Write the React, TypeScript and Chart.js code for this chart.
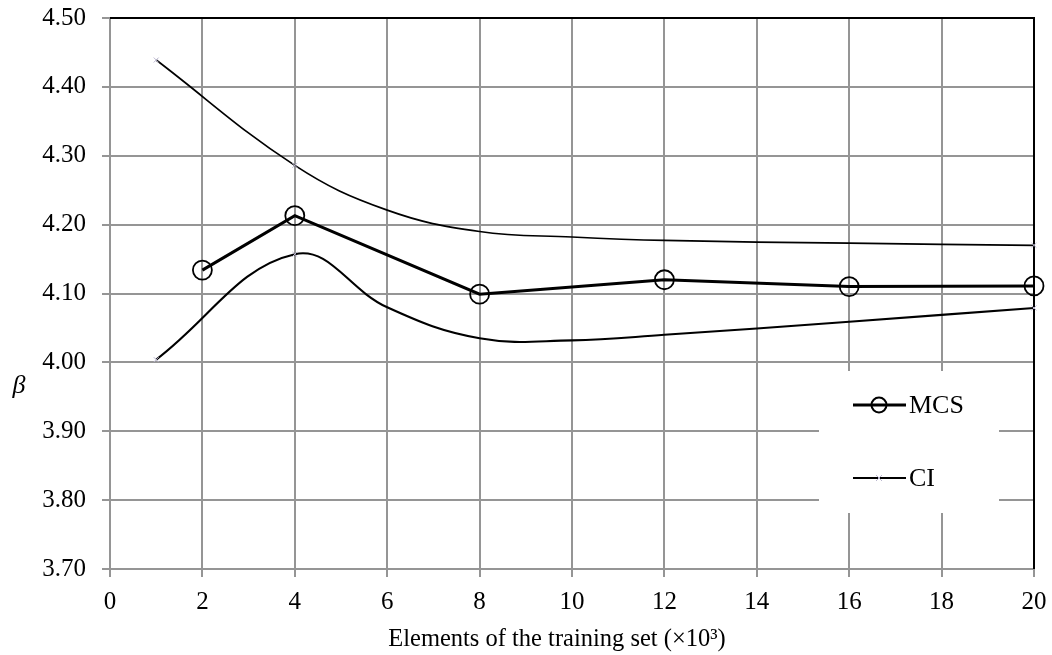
import React, { useEffect, useRef } from "react";
import { Chart, registerables } from "chart.js";

Chart.register(...registerables);

const mcsX = [2, 4, 8, 12, 16, 20];
const mcsY = [4.134, 4.213, 4.099, 4.12, 4.11, 4.111];

const ciUpperX = [1, 4, 6, 8, 10, 12, 16, 20];
const ciUpper = [4.439, 4.286, 4.221, 4.19, 4.182, 4.177, 4.173, 4.17];
const ciLowerX = [1, 4, 6, 8, 10, 12, 16, 20];
const ciLower = [4.004, 4.157, 4.08, 4.035, 4.032, 4.04, 4.059, 4.079];
const ciMarkerX = [1, 4, 20];

const xTitle = "Elements of the training set (×10³)";
const yTitle = "β";
const FONT = "'Liberation Serif', 'Times New Roman', serif";
const GRID = "#959595";
const MARK = "#bcb8d0";

const toPts = (xs: number[], ys: number[]) => xs.map((x, i) => ({ x, y: ys[i] }));
const ciRadius = (ctx: any) => {
  const p = ctx.raw;
  return p && ciMarkerX.includes(p.x) ? 3.5 : 0;
};

const overlay = {
  id: "overlay",
  beforeDatasetsDraw(chart: any) {
    const { ctx, chartArea } = chart;
    ctx.save();
    ctx.strokeStyle = "#000";
    ctx.lineWidth = 2;
    ctx.beginPath();
    ctx.moveTo(chartArea.left, chartArea.top);
    ctx.lineTo(chartArea.right, chartArea.top);
    ctx.lineTo(chartArea.right, chartArea.bottom);
    ctx.stroke();
    ctx.restore();
  },
  afterDraw(chart: any) {
    const { ctx } = chart;
    ctx.save();
    ctx.fillStyle = "#000";
    ctx.font = `italic 26px ${FONT}`;
    ctx.textAlign = "center";
    ctx.textBaseline = "middle";
    ctx.fillText(yTitle, 19, 386);
    ctx.font = `24.5px ${FONT}`;
    ctx.fillText(xTitle, 557, 640);

    ctx.fillStyle = "#fff";
    ctx.fillRect(819, 371, 180, 142);
    const ds = chart.data.datasets;
    const entries = [
      { label: ds[0].label, y: 405, lw: 3, marker: "circle" },
      { label: ds[1].label, y: 478, lw: 1.8, marker: "cross" },
    ];
    for (const e of entries) {
      ctx.strokeStyle = "#000";
      ctx.lineWidth = e.lw;
      ctx.beginPath();
      ctx.moveTo(853, e.y);
      ctx.lineTo(906, e.y);
      ctx.stroke();
      if (e.marker === "circle") {
        ctx.lineWidth = 2;
        ctx.beginPath();
        ctx.arc(879, e.y, 7.5, 0, Math.PI * 2);
        ctx.stroke();
      } else {
        ctx.strokeStyle = MARK;
        ctx.lineWidth = 1;
        ctx.beginPath();
        ctx.moveTo(876, e.y - 3);
        ctx.lineTo(882, e.y + 3);
        ctx.moveTo(882, e.y - 3);
        ctx.lineTo(876, e.y + 3);
        ctx.stroke();
      }
      ctx.fillStyle = "#000";
      ctx.font = `26px ${FONT}`;
      ctx.textAlign = "left";
      ctx.textBaseline = "middle";
      ctx.fillText(e.label, 909, e.y + 1);
    }
    ctx.restore();
  },
};

export default function App() {
  const ref = useRef<HTMLCanvasElement | null>(null);

  useEffect(() => {
    document.body.style.margin = "0";
    const canvas = ref.current;
    if (!canvas) return;
    const ciCommon = {
      borderColor: "#000",
      tension: 0.4,
      pointStyle: "crossRot",
      pointRadius: ciRadius,
      pointBorderWidth: 1,
      pointBorderColor: MARK,
      clip: false,
    };
    const chart = new Chart(canvas, {
      type: "line",
      data: {
        datasets: [
          {
            label: "MCS",
            data: toPts(mcsX, mcsY),
            borderColor: "#000",
            borderWidth: 3,
            tension: 0,
            pointStyle: "circle",
            pointRadius: 9.5,
            pointBorderWidth: 1.8,
            pointBorderColor: "#000",
            pointBackgroundColor: "rgba(0,0,0,0)",
            clip: false,
          } as any,
          { label: "CI", data: toPts(ciUpperX, ciUpper), borderWidth: 1.7, ...ciCommon } as any,
          { label: "CI", data: toPts(ciLowerX, ciLower), borderWidth: 2.1, ...ciCommon } as any,
        ],
      },
      options: {
        animation: false,
        responsive: true,
        maintainAspectRatio: false,
        layout: { padding: { left: 0, right: 18, top: 18, bottom: 0 } },
        plugins: { legend: { display: false }, tooltip: { enabled: false } },
        scales: {
          x: {
            type: "linear",
            min: 0,
            max: 20,
            afterFit: (s: any) => {
              s.height = 86;
              s.paddingLeft = 0;
              s.paddingRight = 0;
            },
            ticks: {
              stepSize: 2,
              color: "#000",
              padding: 10,
              font: { family: FONT, size: 25 },
            },
            grid: { color: GRID, lineWidth: 2, tickLength: 8 },
            border: { color: GRID, width: 2 },
          },
          y: {
            type: "linear",
            min: 3.7,
            max: 4.5,
            afterFit: (s: any) => {
              s.width = 110;
              s.paddingTop = 0;
              s.paddingBottom = 0;
            },
            ticks: {
              stepSize: 0.1,
              color: "#000",
              padding: 16,
              font: { family: FONT, size: 25 },
              callback: (v: any) => Number(v).toFixed(2),
            },
            grid: { color: GRID, lineWidth: 2, tickLength: 8 },
            border: { color: GRID, width: 2 },
          },
        },
      },
      plugins: [overlay],
    });
    return () => chart.destroy();
  }, []);

  return (
    <div style={{ width: 1052, height: 655, position: "relative" }}>
      <canvas ref={ref} />
    </div>
  );
}
